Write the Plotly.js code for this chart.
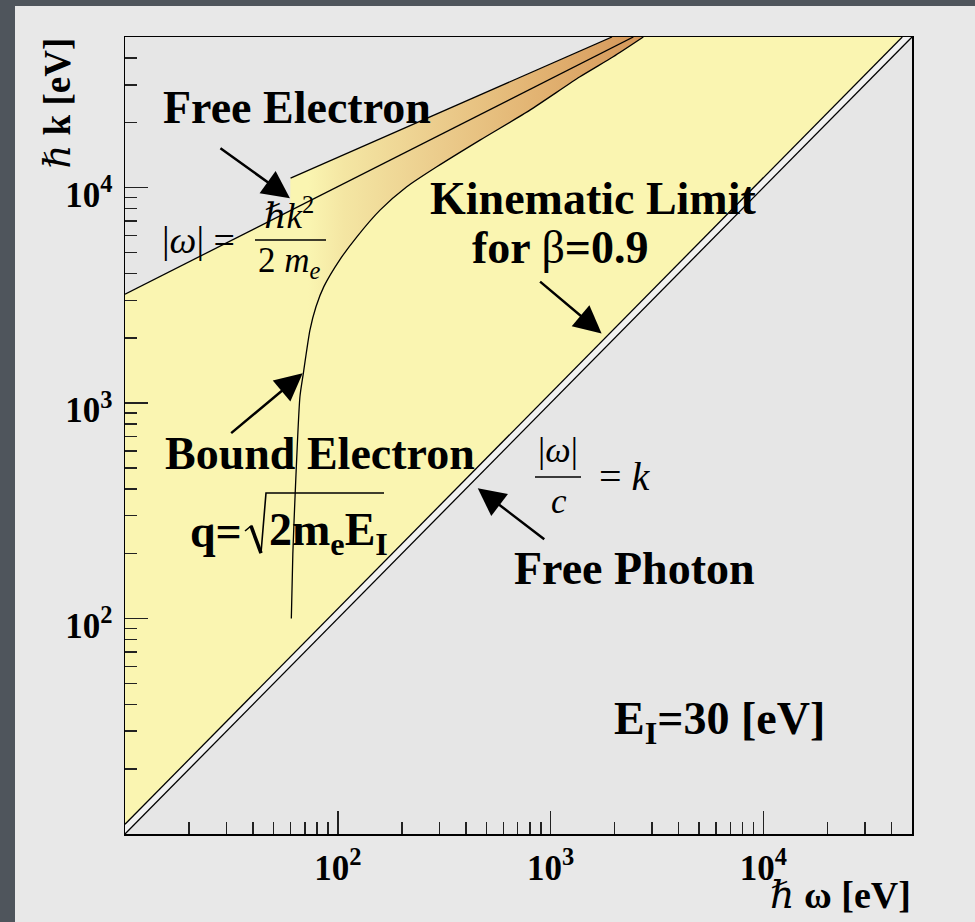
<!DOCTYPE html>
<html>
<head>
<meta charset="utf-8">
<script src="https://cdn.plot.ly/plotly-3.0.1.min.js"></script>
<style>
  html, body { margin: 0; padding: 0; width: 975px; height: 922px; overflow: hidden; background: #4f555c; }
  #chart { position: absolute; left: 15px; top: 6px; width: 960px; height: 916px; }
</style>
</head>
<body>
<div id="chart"></div>
<script>
// Energy transfer ħω against momentum transfer ħk (both in eV)
// for a β = 0.9 projectile and a bound electron with E_I = 30 eV.

// Free-electron dispersion |ω| = ħk²/2mₑ
const freeOmega = [10, 2450];
const freeK = [3200, 50000];

// Upper edge of the bound-electron band
const upperOmega = [60, 1945];
const upperK = [11070, 50000];

// Bound-electron ridge, starting at q = sqrt(2 mₑ E_I)
const boundOmega = [60.5, 61.5, 63, 66.4, 68.9, 74, 79, 86, 102, 123, 158, 211, 292, 466, 800, 1375, 1970, 2730];
const boundK = [100, 200, 370, 1070, 1374, 2180, 2800, 3470, 4610, 5910, 7860, 10090, 12490, 16610, 22880, 32680, 40460, 50000];

// Kinematic limit for β = 0.9
const kinOmega = [10, 45000];
const kinK = [11.1, 50000];

// Free photon |ω|/c = k
const photonOmega = [10, 50000];
const photonK = [10, 50000];

// Kinematically allowed region
const regionOmega = [10, 60, 60, 1945, 45000, 10];
const regionK = [3200, 7830, 11070, 50000, 50000, 11.1];

// Axis ticks
const majorTicks = [100, 1000, 10000];
const majorText = ['<b>10<sup>2</sup></b>', '<b>10<sup>3</sup></b>', '<b>10<sup>4</sup></b>'];
const minorTicks = [20, 30, 40, 50, 60, 70, 80, 90,
                    200, 300, 400, 500, 600, 700, 800, 900,
                    2000, 3000, 4000, 5000, 6000, 7000, 8000, 9000,
                    20000, 30000, 40000];

const SERIF = 'Liberation Serif, DejaVu Serif, serif';
const YELLOW = '#faf5b1';

// Band between the upper edge and the bound-electron ridge
const bandOmega = upperOmega.concat(boundOmega.slice().reverse());
const bandK = upperK.concat(boundK.slice().reverse());

const noLine = {width: 0, color: 'rgba(0,0,0,0)'};
const thin = {color: '#000', width: 1.3};

const traces = [
  {x: regionOmega, y: regionK, mode: 'lines', line: noLine, fill: 'toself', fillcolor: YELLOW, hoverinfo: 'skip'},
  {x: bandOmega, y: bandK, mode: 'lines', line: noLine, fill: 'toself', fillcolor: '#e8c283',
   fillgradient: {type: 'horizontal', colorscale: [[0, YELLOW], [0.05, YELLOW], [0.15, '#f4e6a3'], [0.4, '#ecce8e'], [0.7, '#e2b372'], [1, '#d5975a']]},
   hoverinfo: 'skip'},
  {x: [kinOmega[0], kinOmega[1], photonOmega[1], photonOmega[0]], y: [kinK[0], kinK[1], photonK[1], photonK[0]],
   mode: 'lines', line: noLine, fill: 'toself', fillcolor: '#f1f1f1', hoverinfo: 'skip'},
  {x: freeOmega, y: freeK, mode: 'lines', line: thin, hoverinfo: 'skip'},
  {x: upperOmega, y: upperK, mode: 'lines', line: thin, hoverinfo: 'skip'},
  {x: boundOmega, y: boundK, mode: 'lines', line: Object.assign({shape: 'spline', smoothing: 0.6}, thin), hoverinfo: 'skip'},
  {x: kinOmega, y: kinK, mode: 'lines', line: thin, hoverinfo: 'skip'},
  {x: photonOmega, y: photonK, mode: 'lines', line: thin, hoverinfo: 'skip'}
];

// Plot frame spans canvas pixels x 125..912 and y 37..834
function fx(px) { return (px - 125) / 787; }
function fy(py) { return (834 - py) / 797; }

function label(text, px, py, size, anchor) {
  return {xref: 'paper', yref: 'paper', x: fx(px), y: fy(py), text: text, showarrow: false,
          xanchor: anchor || 'center', yanchor: 'middle', font: {family: SERIF, size: size, color: '#000'}};
}

function arrow(omega, k, ax, ay) {
  return {xref: 'x', yref: 'y', x: Math.log10(omega), y: Math.log10(k), ax: ax, ay: ay,
          axref: 'pixel', ayref: 'pixel', text: '', showarrow: true, arrowhead: 2,
          arrowsize: 2.2, arrowwidth: 2.5, arrowcolor: '#000', standoff: 0, startstandoff: 0};
}

const annotations = [
  label('<b>Free Electron</b>', 297, 107, 46),
  label('<b>Bound Electron</b>', 320, 453, 46),
  label('<b>Kinematic Limit</b>', 593, 198, 46),
  label('<b>for </b>β<b>=0.9</b>', 560, 248, 46),
  label('<b>Free Photon</b>', 634, 568, 46),
  label('<b>E<sub>I</sub>=30 [eV]</b>', 719, 722, 46),
  label('<b>q=</b>', 244, 531, 46, 'right'),
  label('<b>2m<sub>e</sub>E<sub>I</sub></b>', 267, 533, 46, 'left'),
  // |ω| = ħk²/2mₑ
  label('|<i>ω</i>| =', 160, 240, 38, 'left'),
  label('ℏ<i>k</i><sup>2</sup>', 289, 214, 35),
  label('2 <i>m</i><sub><i>e</i></sub>', 289, 262, 35),
  // |ω|/c = k
  label('|<i>ω</i>|', 558, 450, 36),
  label('<i>c</i>', 559, 501, 35),
  label('= <i>k</i>', 597, 476, 40, 'left'),
  // axis titles
  Object.assign(label('<i>ℏ</i> <b>k [eV]</b>', 57, 36, 37), {textangle: -90, yanchor: 'top'}),
  label('<i>ℏ</i> <b>ω [eV]</b>', 913, 895, 38, 'right'),
  // pointers
  arrow(59.6, 8930, -71, -51),
  arrow(68.4, 1374, -73, 61),
  arrow(1738, 2106, -63, -53),
  arrow(455, 402, 68, 52)
];

function bar(x0, x1, py) {
  return {type: 'line', xref: 'paper', yref: 'paper', x0: fx(x0), x1: fx(x1), y0: fy(py), y1: fy(py),
          line: {color: '#000', width: 1.5}};
}

function stroke(points, width) {
  const d = points.map((p, i) => (i ? 'L' : 'M') + fx(p[0]).toFixed(5) + ',' + fy(p[1]).toFixed(5)).join(' ');
  return {type: 'path', xref: 'paper', yref: 'paper', path: d, line: {color: '#000', width: width}};
}

const shapes = [
  bar(255, 326, 240),
  bar(535, 581, 477),
  // radical sign over 2mₑE_I
  stroke([[245, 531], [251, 526], [261, 553], [266, 493], [384, 493]], 1.6),
  stroke([[251, 526], [261, 553]], 3.6)
];

function axis(extra) {
  return Object.assign({
    type: 'log', range: [1, Math.log10(50000)],
    tickmode: 'array', tickvals: majorTicks, ticktext: majorText,
    ticks: 'inside', ticklen: 23, tickwidth: 1.5, tickcolor: '#222',
    minor: {tickmode: 'array', tickvals: minorTicks, ticks: 'inside', ticklen: 12, tickwidth: 1.5, tickcolor: '#222', showgrid: false},
    showline: true, mirror: true, linecolor: '#000', linewidth: 1.5,
    showgrid: false, zeroline: false, fixedrange: true,
    tickfont: {family: SERIF, size: 35, color: '#000'}
  }, extra);
}

const layout = {
  width: 960, height: 916,
  margin: {l: 110, r: 63, t: 31, b: 88},
  paper_bgcolor: '#e8e8e8', plot_bgcolor: '#e6e6e6',
  showlegend: false,
  font: {family: SERIF, color: '#000'},
  xaxis: axis({ticklabelstandoff: 2}),
  yaxis: axis({ticklabelshift: 7, ticklabelstandoff: 4}),
  annotations: annotations,
  shapes: shapes
};

Plotly.newPlot('chart', traces, layout, {displayModeBar: false, staticPlot: true});
</script>
</body>
</html>
